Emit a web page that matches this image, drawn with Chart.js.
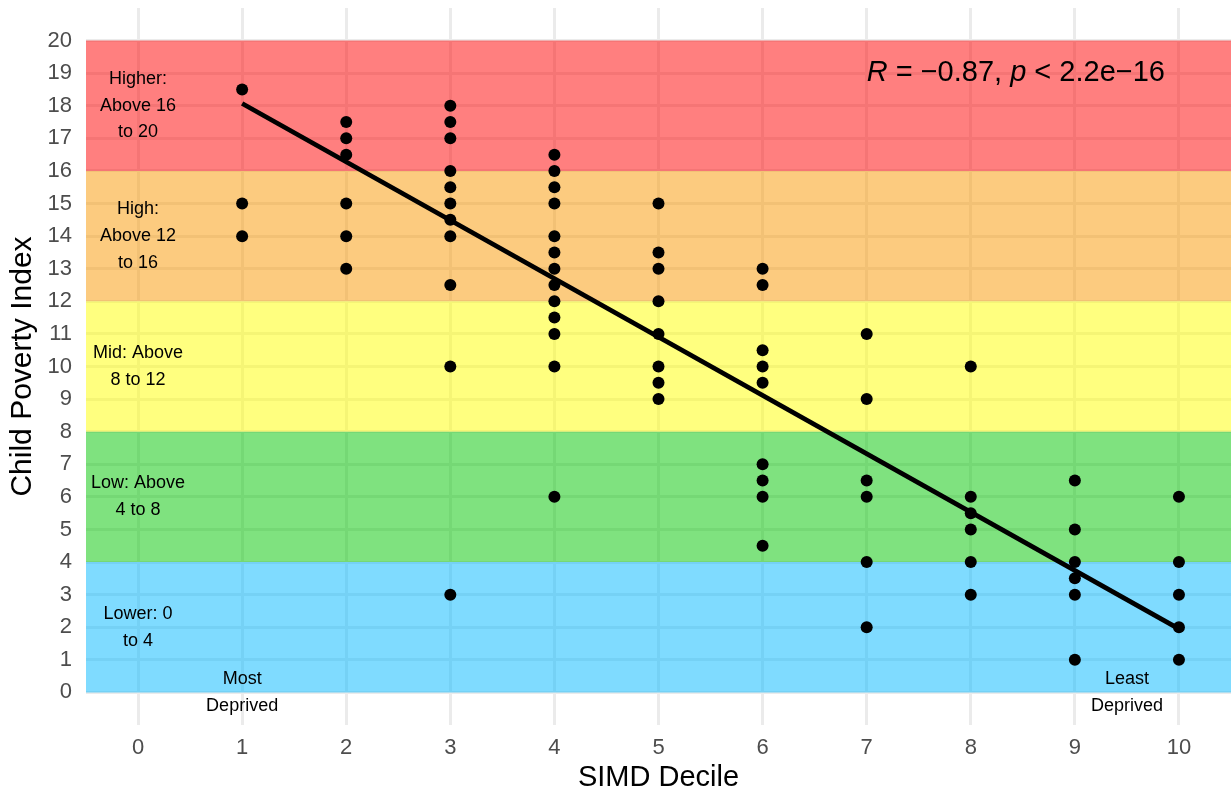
<!DOCTYPE html>
<html>
<head>
<meta charset="utf-8">
<script src="https://cdn.jsdelivr.net/npm/chart.js@4.4.1/dist/chart.umd.min.js"></script>
<style>
  html, body { margin: 0; padding: 0; background: #ffffff; }
  #wrap { width: 1231px; height: 797px; }
</style>
</head>
<body>
<div id="wrap"><canvas id="c" width="1231" height="797"></canvas></div>
<script>
// ---- Data ----
const deciles = [1, 2, 3, 4, 5, 6, 7, 8, 9, 10];
const d1 = [18.5, 15, 14];
const d2 = [17.5, 17, 16.5, 15, 14, 13];
const d3 = [18, 17.5, 17, 16, 15.5, 15, 14.5, 14, 12.5, 10, 3];
const d4 = [16.5, 16, 15.5, 15, 14, 13.5, 13, 12.5, 12, 11.5, 11, 10, 6];
const d5 = [15, 13.5, 13, 12, 11, 10, 9.5, 9];
const d6 = [13, 12.5, 10.5, 10, 9.5, 7, 6.5, 6, 4.5];
const d7 = [11, 9, 6.5, 6, 4, 2];
const d8 = [10, 6, 5.5, 5, 4, 3];
const d9 = [6.5, 5, 4, 3.5, 3, 1];
const d10 = [6, 4, 3, 2, 1];
const decileValues = [d1, d2, d3, d4, d5, d6, d7, d8, d9, d10];

const fitX = [1, 10];
const fitY = [18.07, 1.95];

const bandLower = [0, 4, 8, 12, 16];
const bandUpper = [4, 8, 12, 16, 20];
const bandNames = [
  ["Lower: 0", "to 4"],
  ["Low: Above", "4 to 8"],
  ["Mid: Above", "8 to 12"],
  ["High:", "Above 12", "to 16"],
  ["Higher:", "Above 16", "to 20"]
];
const bandColors = [
  "rgba(0,184,255,0.5)",
  "rgba(0,198,0,0.5)",
  "rgba(255,255,0,0.5)",
  "rgba(250,152,0,0.5)",
  "rgba(255,0,0,0.5)"
];

const xTicks = [0, 1, 2, 3, 4, 5, 6, 7, 8, 9, 10];
const yTicks = [0, 1, 2, 3, 4, 5, 6, 7, 8, 9, 10, 11, 12, 13, 14, 15, 16, 17, 18, 19, 20];
const xRange = [-0.5, 10.5];
const yRange = [-1, 21];

const corrLabel = { x: 7, y: 19.0 };
const endLabels = [
  { lines: ["Most", "Deprived"], x: 1, y: 0 },
  { lines: ["Least", "Deprived"], x: 9.5, y: 0 }
];

// ---- Build datasets ----
const FONT = "'Liberation Sans', Arial, Helvetica, sans-serif";
const points = [];
deciles.forEach((d, i) => decileValues[i].forEach(v => points.push({ x: d, y: v })));

const datasets = [];
bandLower.forEach((lo, i) => {
  datasets.push({
    type: 'line',
    data: [{ x: xRange[0], y: bandUpper[i] }, { x: xRange[1], y: bandUpper[i] }],
    borderWidth: 0,
    borderColor: 'rgba(0,0,0,0)',
    pointRadius: 0,
    fill: { value: lo },
    backgroundColor: bandColors[i],
    order: 10
  });
});
datasets.push({
  type: 'scatter',
  data: points,
  pointRadius: 6,
  pointHoverRadius: 6,
  pointBorderWidth: 0,
  backgroundColor: '#000000',
  borderColor: '#000000',
  order: 2
});
datasets.push({
  type: 'line',
  data: fitX.map((x, i) => ({ x: x, y: fitY[i] })),
  borderColor: '#000000',
  borderWidth: 4.7,
  pointRadius: 0,
  fill: false,
  order: 1
});

// ---- Text plugin ----
const textPlugin = {
  id: 'textPlugin',
  afterDatasetsDraw(chart) {
    const ctx = chart.ctx;
    const xs = chart.scales.x, ys = chart.scales.y;
    ctx.save();
    ctx.fillStyle = '#000000';
    ctx.textAlign = 'center';
    ctx.textBaseline = 'middle';
    ctx.font = '18px ' + FONT;
    const lh = 26.7;
    bandNames.forEach((lines, i) => {
      const cx = xs.getPixelForValue(0);
      const cy = ys.getPixelForValue((bandLower[i] + bandUpper[i]) / 2);
      const n = lines.length;
      lines.forEach((t, k) => ctx.fillText(t, cx, cy + (k - (n - 1) / 2) * lh));
    });
    endLabels.forEach(lbl => {
      const cx = xs.getPixelForValue(lbl.x);
      const cy = ys.getPixelForValue(lbl.y);
      const n = lbl.lines.length;
      lbl.lines.forEach((t, k) => ctx.fillText(t, cx, cy + (k - (n - 1) / 2) * lh));
    });
    // correlation label with italic R and p
    const parts = [
      { t: 'R', it: true }, { t: ' = \u22120.87, ', it: false },
      { t: 'p', it: true }, { t: ' < 2.2e\u221216', it: false }
    ];
    let px = xs.getPixelForValue(corrLabel.x);
    const py = ys.getPixelForValue(corrLabel.y);
    ctx.textAlign = 'left';
    parts.forEach(p => {
      ctx.font = (p.it ? 'italic ' : '') + '29px ' + FONT;
      ctx.fillText(p.t, px, py);
      px += ctx.measureText(p.t).width;
    });
    ctx.restore();
  }
};

function zeroPad(s) { s.paddingTop = 0; s.paddingBottom = 0; s.paddingLeft = 0; s.paddingRight = 0; }

// ---- Chart ----
new Chart(document.getElementById('c'), {
  type: 'scatter',
  data: { datasets: datasets },
  options: {
    responsive: false,
    animation: false,
    events: [],
    layout: { autoPadding: false, padding: { top: 8, right: 0, left: 0, bottom: 0 } },
    plugins: {
      legend: { display: false },
      tooltip: { enabled: false },
      filler: { propagate: false }
    },
    scales: {
      x: {
        type: 'linear',
        min: xRange[0],
        max: xRange[1],
        afterBuildTicks: s => { s.ticks = xTicks.map(v => ({ value: v })); },
        afterFit: s => { s.height = 72; zeroPad(s); },
        border: { display: false },
        grid: { color: '#EBEBEB', lineWidth: 3, drawTicks: false },
        ticks: {
          color: '#4D4D4D',
          font: { family: FONT, size: 22 },
          padding: 10,
          callback: v => String(v)
        },
        title: {
          display: true,
          text: 'SIMD Decile',
          color: '#000000',
          font: { family: FONT, size: 29 },
          padding: { top: 0, bottom: 2 }
        }
      },
      y: {
        type: 'linear',
        min: yRange[0],
        max: yRange[1],
        afterBuildTicks: s => { s.ticks = yTicks.map(v => ({ value: v })); },
        afterFit: s => { s.width = 86; zeroPad(s); },
        border: { display: false },
        grid: { color: '#EBEBEB', lineWidth: 3, drawTicks: false },
        ticks: {
          color: '#4D4D4D',
          font: { family: FONT, size: 22 },
          padding: 14,
          callback: v => String(v)
        },
        title: {
          display: true,
          text: 'Child Poverty Index',
          color: '#000000',
          font: { family: FONT, size: 30 },
          padding: { top: 5, bottom: 0 }
        }
      }
    }
  },
  plugins: [textPlugin]
});
</script>
</body>
</html>
